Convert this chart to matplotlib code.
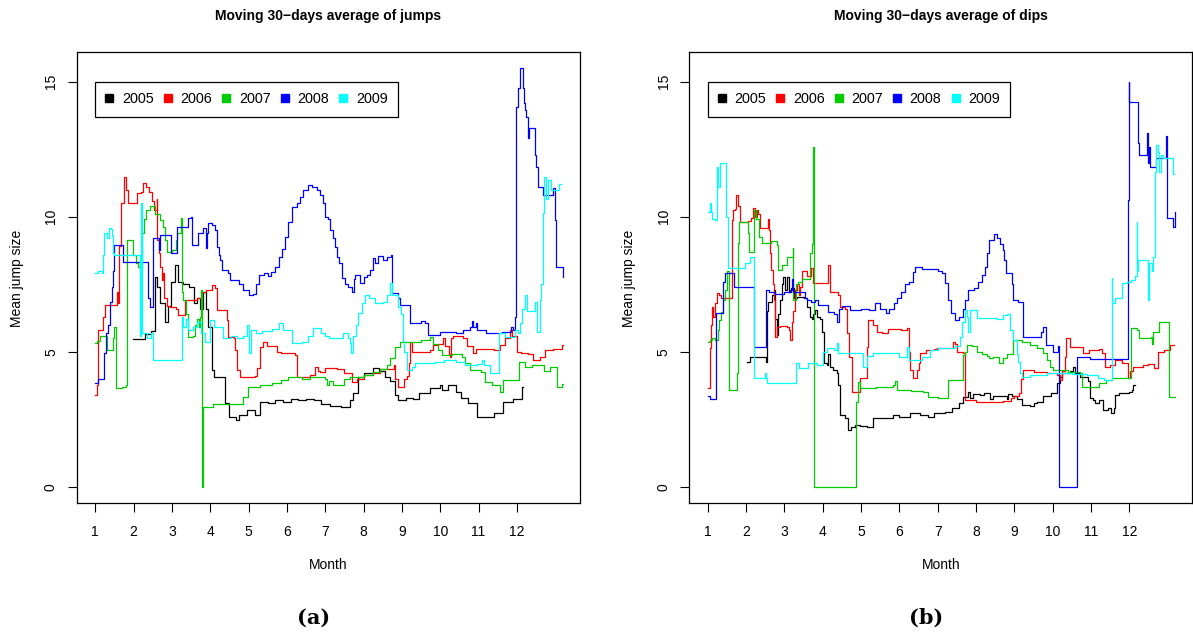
import matplotlib
matplotlib.use("Agg")
import matplotlib.pyplot as plt
from matplotlib.lines import Line2D

# Jahre, Farben und Monatsachse der beiden Diagramme.
years = ["2005", "2006", "2007", "2008", "2009"]
colors = ["#000000", "#FF0000", "#00CD00", "#0000FF", "#00FFFF"]
month_ticks = [1, 2, 3, 4, 5, 6, 7, 8, 9, 10, 11, 12]
value_ticks = [0, 5, 10, 15]

jumps_2005_month = [1.99, 2.30, 2.45, 2.56, 2.62, 2.70, 2.82, 2.90, 2.98, 3.08, 3.15, 3.30, 3.45, 3.58, 3.65,
                    3.72, 3.80, 3.88, 3.95, 4.04, 4.10, 4.38, 4.50, 4.66, 4.75, 4.95, 5.17, 5.30, 5.50, 5.70,
                    5.90, 6.10, 6.30, 6.50, 6.70, 6.90, 7.12, 7.40, 7.64, 7.72, 7.85, 8.00, 8.25, 8.40, 8.55,
                    8.70, 8.82, 8.91, 9.10, 9.30, 9.45, 9.73, 10.00, 10.05, 10.21, 10.40, 10.55, 10.73, 10.95,
                    11.40, 11.63, 11.90, 12.12, 12.17]
jumps_2005_value = [5.47, 5.65, 5.75, 7.78, 7.40, 6.80, 6.10, 6.70, 7.60, 8.20, 7.60, 7.50, 7.40, 6.80, 7.00,
                    6.60, 7.20, 6.60, 5.90, 4.32, 4.05, 3.10, 2.60, 2.47, 2.65, 2.84, 2.65, 3.15, 3.10, 3.20,
                    3.15, 3.25, 3.20, 3.25, 3.20, 3.07, 3.00, 2.96, 3.20, 3.47, 4.07, 4.20, 4.40, 4.30, 4.07,
                    3.90, 3.40, 3.21, 3.30, 3.25, 3.47, 3.66, 3.77, 3.60, 3.77, 3.50, 3.30, 3.09, 2.59,
                    2.72, 3.15, 3.25, 3.70, 3.70]
jumps_2006_month = [1.00, 1.04, 1.08, 1.15, 1.21, 1.25, 1.56, 1.60, 1.63, 1.66, 1.76, 1.80, 1.85, 2.08, 2.18,
                    2.25, 2.32, 2.40, 2.47, 2.52, 2.60, 2.62, 2.66, 2.70, 2.73, 2.76, 2.80, 2.88, 2.95, 3.10,
                    3.17, 3.30, 3.34, 3.55, 3.65, 3.78, 3.90, 4.04, 4.12, 4.17, 4.43, 4.47, 4.62, 4.64, 4.70,
                    4.78, 5.17, 5.22, 5.30, 5.38, 5.48, 5.73, 5.85, 6.08, 6.20, 6.25, 6.60, 6.73, 6.80, 6.86,
                    7.00, 7.30, 7.50, 7.69, 7.82, 8.00, 8.25, 8.43, 8.70, 8.78, 8.82, 8.91, 9.05, 9.14, 9.18,
                    9.21, 9.25, 9.73, 9.80, 9.95, 10.08, 10.13, 10.22, 10.25, 10.28, 10.32, 10.60, 10.69,
                    10.86, 10.92, 11.20, 11.40, 11.56, 11.70, 11.82, 11.88, 11.99, 12.10, 12.30, 12.43,
                    12.60, 12.73, 12.95, 13.17, 13.19]
jumps_2006_value = [3.40, 3.77, 5.80, 5.80, 6.30, 6.73, 7.20, 6.80, 8.90, 10.50, 11.48, 11.00, 10.50, 10.87, 10.90,
                    11.24, 11.10, 10.90, 10.60, 10.25, 10.66, 9.14, 8.64, 8.15, 7.65, 7.90, 7.00, 6.70, 6.65, 6.60,
                    6.36, 6.36, 6.90, 6.90, 7.00, 7.22, 7.30, 7.47, 7.35, 6.54, 6.17, 5.56, 5.50, 5.06, 4.32,
                    4.07, 4.10, 4.40, 5.19, 5.37, 5.20, 5.00, 4.97, 4.94, 4.88, 4.07, 4.15, 4.44, 4.30, 4.26,
                    4.40, 4.35, 4.20, 3.89, 4.00, 4.15, 4.20, 4.37, 4.37, 4.50, 4.00, 3.70, 4.00, 4.10, 4.60,
                    5.37, 5.00, 5.06, 5.25, 5.30, 5.50, 5.20, 4.90, 4.81, 5.50, 5.58, 5.52, 5.20,
                    4.94, 5.10, 5.10, 5.06, 5.25, 5.50, 5.80, 5.60, 5.00, 4.97, 4.90, 4.69,
                    4.80, 5.06, 5.10, 5.25, 5.25]
jumps_2007_month = [1.00, 1.05, 1.12, 1.25, 1.30, 1.40, 1.45, 1.50, 1.53, 1.70, 1.80, 1.82, 1.99, 2.05, 2.12,
                    2.21, 2.26, 2.32, 2.42, 2.56, 2.68, 2.76, 2.82, 2.86, 3.00, 3.11, 3.14, 3.22, 3.24, 3.27,
                    3.30, 3.36, 3.43, 3.55, 3.60, 3.65, 3.70, 3.74, 3.77, 3.79, 3.81, 4.08, 4.86, 4.99, 5.30,
                    5.60, 5.85, 6.04, 6.40, 6.60, 7.00, 7.04, 7.10, 7.20, 7.50, 7.64, 8.00, 8.25, 8.43, 8.60,
                    8.69, 8.82, 8.95, 9.30, 9.50, 9.73, 9.80, 9.95, 10.05, 10.30, 10.56, 10.65, 10.77, 11.05,
                    11.17, 11.35, 11.56, 11.63, 12.06, 12.20, 12.40, 12.56, 12.70, 12.85, 13.05, 13.17, 13.19]
jumps_2007_value = [5.31, 5.40, 5.60, 5.60, 5.06, 5.06, 5.50, 5.93, 3.64, 3.70, 3.77, 9.14, 8.58, 8.30, 8.15,
                    9.38, 9.90, 10.25, 10.40, 10.10, 9.88, 9.63, 9.14, 8.70, 8.75, 9.14, 9.41, 9.41, 9.94, 7.20,
                    6.90, 6.40, 5.56, 5.60, 6.00, 6.20, 5.90, 6.30, 7.30, 0.00, 2.96, 3.07, 3.33, 3.70, 3.77,
                    3.85, 3.95, 4.07, 4.00, 4.07, 4.00, 3.77, 3.90, 3.77, 4.00, 4.05, 4.15, 4.26, 4.37, 4.50,
                    4.75, 5.19, 5.37, 5.37, 5.45, 5.56, 5.30, 5.06, 4.88, 4.90, 4.81, 4.60, 4.32, 4.26,
                    3.89, 3.75, 3.52, 3.95, 4.63, 4.44, 4.50, 4.50, 4.30, 4.45, 3.70, 3.80, 3.80]
jumps_2008_month = [1.00, 1.08, 1.20, 1.22, 1.28, 1.32, 1.39, 1.43, 1.47, 1.50, 1.71, 1.73, 2.33, 2.38, 2.42,
                    2.51, 2.60, 2.66, 2.69, 2.97, 3.14, 3.41, 3.49, 3.51, 3.67, 3.82, 3.88, 3.92, 3.95, 4.05,
                    4.12, 4.17, 4.22, 4.26, 4.30, 4.45, 4.51, 4.75, 4.85, 5.00, 5.12, 5.20, 5.28, 5.40, 5.50,
                    5.58, 5.69, 5.78, 5.86, 5.95, 6.04, 6.12, 6.25, 6.34, 6.43, 6.56, 6.65, 6.78, 6.87, 6.95,
                    7.00, 7.08, 7.12, 7.20, 7.25, 7.30, 7.36, 7.43, 7.52, 7.60, 7.69, 7.74, 7.78, 7.90, 8.00,
                    8.10, 8.17, 8.25, 8.30, 8.38, 8.50, 8.60, 8.71, 8.73, 8.90, 8.95, 9.21, 9.50, 9.60, 9.69,
                    10.00, 10.40, 10.60, 10.77, 10.82, 10.86, 10.92, 10.97, 11.20, 11.60, 11.85, 11.90, 11.95,
                    11.97, 11.98, 12.03, 12.08, 12.15, 12.19, 12.21, 12.24, 12.30, 12.32, 12.47, 12.51, 12.54,
                    12.67, 12.95, 12.99, 13.02, 13.19, 13.21]
jumps_2008_value = [3.83, 3.98, 3.98, 4.94, 5.68, 6.00, 6.85, 7.40, 8.00, 8.95, 8.95, 8.33, 8.33, 7.00, 6.67,
                    9.20, 9.20, 8.77, 9.32, 8.64, 9.63, 9.94, 10.00, 8.95, 9.38, 9.60, 8.83, 9.38, 9.75, 9.70,
                    9.50, 8.89, 8.60, 8.40, 8.03, 7.90, 7.65, 7.50, 7.28, 7.10, 7.15, 7.50, 7.85, 7.90, 7.80,
                    7.95, 8.15, 8.52, 8.80, 9.26, 9.81, 10.37, 10.50, 10.74, 11.00, 11.17, 11.10, 11.00, 10.80, 10.50,
                    10.00, 9.90, 9.50, 9.20, 8.89, 8.52, 8.30, 7.72, 7.50, 7.40, 7.22, 7.70, 7.84, 7.55, 7.75,
                    7.84, 8.03, 8.46, 8.30, 8.54, 8.40, 8.50, 8.60, 7.16, 7.00, 6.73, 6.05, 6.12, 6.05, 5.62,
                    5.72, 5.68, 5.80, 5.93, 6.12, 5.90, 6.05, 5.80, 5.70, 5.72, 5.93, 5.80, 6.30,
                    10.00, 14.07, 14.75, 15.50, 14.75, 14.20, 13.95, 13.70, 12.90, 13.27, 12.28, 11.85, 11.10,
                    10.80, 11.07, 9.88, 8.15, 7.78, 7.78]
jumps_2009_month = [1.00, 1.08, 1.18, 1.21, 1.23, 1.30, 1.35, 1.40, 1.44, 1.47, 1.50, 2.17, 2.20, 2.23, 2.35,
                    2.45, 2.51, 3.25, 3.30, 3.36, 3.43, 3.55, 3.65, 3.75, 3.86, 3.99, 4.10, 4.34, 4.55, 4.70,
                    4.85, 4.95, 5.02, 5.06, 5.20, 5.35, 5.60, 5.78, 5.90, 6.12, 6.40, 6.55, 6.69, 6.90, 7.00,
                    7.10, 7.45, 7.60, 7.64, 7.68, 7.72, 7.80, 7.86, 7.95, 8.04, 8.15, 8.30, 8.50, 8.60, 8.69,
                    8.73, 8.85, 8.91, 8.98, 9.02, 9.06, 9.13, 9.25, 9.35, 9.60, 9.87, 10.10, 10.40, 10.65,
                    10.95, 11.08, 11.15, 11.30, 11.54, 11.70, 11.95, 12.02, 12.08, 12.13, 12.21, 12.26, 12.47,
                    12.52, 12.60, 12.64, 12.67, 12.71, 12.76, 12.82, 12.88, 13.10, 13.16]
jumps_2009_value = [7.90, 8.00, 7.90, 8.60, 9.38, 9.20, 9.60, 9.55, 9.30, 8.64, 8.58, 5.60, 10.50, 5.70, 5.50,
                    5.70, 4.69, 6.30, 5.93, 6.20, 5.80, 5.90, 6.10, 5.70, 5.37, 6.17, 5.90, 5.50, 5.60, 5.50,
                    5.60, 5.99, 4.94, 5.80, 5.70, 5.75, 5.85, 6.06, 5.80, 5.31, 5.35, 5.60, 5.87, 5.70, 5.60,
                    5.50, 5.70, 5.50, 5.31, 4.94, 5.60, 6.00, 6.42, 6.79, 7.10, 7.00, 6.80, 6.85, 7.10, 7.53,
                    7.10, 7.10, 6.67, 6.40, 5.40, 5.00, 4.32, 4.45, 4.57, 4.60, 4.63, 4.69, 4.63, 4.50,
                    4.55, 4.69, 4.50, 4.20, 5.68, 5.55, 5.80, 5.70, 6.05, 6.60, 7.10, 6.50, 6.85,
                    5.72, 6.90, 7.50, 10.13, 11.48, 10.66, 11.36, 11.00, 11.20, 11.20]

dips_2005_month = [2.02, 2.10, 2.52, 2.55, 2.58, 2.68, 2.72, 2.76, 2.80, 2.84, 2.89, 2.93, 2.97, 3.02, 3.07,
                   3.12, 3.18, 3.25, 3.32, 3.50, 3.58, 3.66, 3.72, 3.76, 3.80, 3.86, 3.92, 3.97, 4.03, 4.10,
                   4.15, 4.20, 4.28, 4.38, 4.41, 4.45, 4.58, 4.67, 4.75, 4.84, 4.98, 5.15, 5.32, 5.60, 5.84,
                   6.00, 6.28, 6.55, 6.75, 6.90, 7.06, 7.20, 7.37, 7.55, 7.67, 7.80, 7.85, 7.92, 8.10, 8.20,
                   8.32, 8.36, 8.45, 8.65, 8.80, 8.84, 8.95, 9.06, 9.19, 9.40, 9.50, 9.60, 9.76, 9.95, 10.11,
                   10.20, 10.24, 10.45, 10.54, 10.58, 10.70, 10.93, 10.97, 11.05, 11.10, 11.20, 11.32, 11.45,
                   11.52, 11.60, 11.63, 11.72, 12.00, 12.06, 12.10, 12.15]
dips_2005_value = [4.63, 4.79, 4.63, 6.50, 6.85, 7.10, 7.30, 6.20, 5.62, 6.40, 6.90, 7.50, 7.78, 7.30, 7.78,
                   7.20, 7.35, 7.00, 7.03, 7.00, 6.67, 6.30, 6.20, 6.40, 6.54, 6.30, 6.20, 5.74, 4.57, 4.50,
                   4.90, 4.45, 4.32, 4.20, 3.77, 2.65, 2.55, 2.10, 2.20, 2.30, 2.25, 2.22, 2.53, 2.55, 2.65,
                   2.60, 2.72, 2.65, 2.60, 2.72, 2.74, 2.75, 2.90, 3.09, 3.33, 3.50, 3.30, 3.45, 3.40, 3.46,
                   3.46, 3.25, 3.35, 3.35, 3.25, 3.45, 3.35, 3.25, 3.03, 3.00, 3.10, 3.15, 3.35, 3.46, 3.83,
                   4.07, 4.20, 4.30, 4.44, 4.20, 4.07, 3.92, 3.27, 3.20, 3.09, 3.20, 2.84, 2.90,
                   2.72, 2.90, 3.40, 3.46, 3.50, 3.60, 3.77, 3.77]
dips_2006_month = [1.00, 1.05, 1.06, 1.09, 1.10, 1.14, 1.18, 1.23, 1.30, 1.35, 1.50, 1.60, 1.63, 1.65, 1.72,
                   1.74, 1.78, 1.84, 2.05, 2.12, 2.19, 2.24, 2.28, 2.32, 2.36, 2.55, 2.58, 2.61, 2.63, 2.66,
                   2.70, 2.72, 2.74, 2.76, 2.80, 2.89, 3.08, 3.12, 3.15, 3.19, 3.23, 3.28, 3.33, 3.37, 3.41,
                   3.45, 3.60, 3.70, 3.76, 4.13, 4.15, 4.18, 4.30, 4.40, 4.45, 4.58, 4.63, 4.68, 4.76, 4.97,
                   5.15, 5.19, 5.30, 5.41, 5.55, 5.70, 6.05, 6.19, 6.24, 6.28, 6.35, 6.45, 6.50, 6.54, 6.70,
                   6.90, 6.98, 7.41, 7.46, 7.50, 7.67, 7.70, 8.00, 8.70, 8.90, 9.00, 9.11, 9.17, 9.23, 9.50,
                   9.84, 10.10, 10.19, 10.25, 10.32, 10.35, 10.45, 10.80, 10.95, 11.20, 11.30, 11.37, 11.50,
                   11.63, 11.80, 11.97, 12.02, 12.10, 12.35, 12.50, 12.65, 12.76, 12.90, 13.05, 13.17]
dips_2006_value = [3.64, 3.70, 5.12, 6.00, 6.67, 6.30, 6.80, 7.16, 7.10, 7.00, 7.00, 7.00, 9.88, 10.25, 10.30,
                   10.80, 10.40, 9.81, 9.85, 9.95, 10.31, 10.00, 10.25, 10.10, 9.57, 9.57, 9.90, 9.50, 8.64, 8.03,
                   7.50, 7.04, 6.90, 5.56, 5.90, 5.95, 5.90, 5.80, 5.43, 6.10, 6.50, 7.28, 7.50, 7.10, 7.40,
                   8.00, 7.80, 8.10, 7.53, 7.53, 8.21, 7.20, 7.20, 7.10, 6.67, 6.60, 5.68, 4.81, 3.52, 4.01,
                   5.19, 6.17, 6.00, 5.74, 5.70, 5.85, 5.80, 5.87, 5.00, 4.32, 4.01, 4.32, 4.60, 4.94, 5.06,
                   5.10, 5.12, 5.37, 5.30, 5.00, 4.97, 3.21, 3.15, 3.18, 3.30, 3.35, 3.46, 4.00, 4.32, 4.26,
                   4.20, 4.15, 3.95, 4.30, 4.80, 5.50, 5.19, 4.97, 5.06, 5.10, 4.95, 4.44, 4.50,
                   4.69, 4.60, 4.01, 4.30, 4.44, 4.50, 4.55, 4.40, 5.00, 5.06, 5.25, 5.25]
dips_2007_month = [1.00, 1.05, 1.12, 1.18, 1.27, 1.30, 1.36, 1.40, 1.44, 1.50, 1.56, 1.76, 1.78, 1.82, 2.06,
                   2.08, 2.21, 2.26, 2.33, 2.41, 2.65, 2.80, 2.83, 2.95, 3.06, 3.22, 3.23, 3.30, 3.35, 3.45,
                   3.55, 3.67, 3.72, 3.76, 3.77, 4.87, 4.93, 4.98, 5.40, 5.84, 5.88, 5.93, 6.30, 6.63, 6.76,
                   7.00, 7.28, 7.55, 7.65, 7.67, 7.71, 7.76, 7.90, 8.02, 8.15, 8.28, 8.35, 8.45, 8.60, 8.70,
                   8.82, 8.97, 9.20, 9.40, 9.60, 9.76, 9.85, 9.93, 10.02, 10.40, 10.70, 10.76, 11.00, 11.20,
                   11.40, 11.54, 12.04, 12.20, 12.26, 12.57, 12.60, 12.63, 12.78, 13.04, 13.19]
dips_2007_value = [5.37, 5.45, 5.50, 5.45, 5.80, 6.17, 6.48, 6.90, 7.28, 8.00, 3.58, 4.20, 9.01, 9.81, 9.40,
                   8.70, 10.25, 9.90, 9.26, 9.01, 9.10, 8.95, 8.03, 8.20, 8.52, 8.83, 6.90, 7.50, 7.60, 7.70,
                   7.70, 8.64, 9.00, 12.59, 0.00, 3.15, 3.89, 3.64, 3.70, 3.77, 3.90, 3.60, 3.55, 3.52, 3.33,
                   3.28, 3.95, 3.95, 4.15, 4.88, 5.00, 5.25, 5.20, 5.00, 4.90, 4.85, 4.75, 4.80, 4.57, 4.75,
                   4.90, 5.43, 5.35, 5.25, 5.15, 4.97, 4.70, 4.44, 4.32, 4.25, 4.20, 3.70, 3.70, 3.83,
                   3.95, 4.01, 5.87, 5.80, 5.50, 5.55, 5.30, 5.72, 6.11, 3.33, 3.33]
dips_2008_month = [1.00, 1.05, 1.22, 1.41, 1.45, 1.69, 2.21, 2.52, 2.60, 2.75, 3.00, 3.15, 3.19, 3.22, 3.50,
                   3.55, 3.58, 3.70, 3.80, 3.87, 3.97, 4.15, 4.30, 4.37, 4.42, 4.50, 4.70, 5.00, 5.20, 5.37,
                   5.50, 5.65, 5.72, 5.85, 5.93, 6.05, 6.15, 6.25, 6.36, 6.42, 6.60, 6.80, 7.00, 7.10, 7.19,
                   7.28, 7.36, 7.45, 7.55, 7.65, 7.71, 7.80, 7.95, 8.05, 8.15, 8.23, 8.28, 8.33, 8.47, 8.55,
                   8.62, 8.70, 8.74, 8.78, 8.93, 8.97, 9.10, 9.22, 9.23, 9.60, 9.70, 9.76, 9.83, 10.00, 10.15,
                   10.17, 10.63, 10.64, 10.97, 11.96, 11.97, 11.99, 12.00, 12.19, 12.23, 12.26, 12.47, 12.49,
                   12.51, 12.54, 12.70, 12.93, 12.96, 12.98, 12.99, 13.15, 13.18, 13.19]
dips_2008_value = [3.36, 3.25, 6.42, 7.60, 7.90, 7.41, 5.19, 7.28, 7.20, 7.15, 7.20, 7.30, 7.70, 7.20, 7.20,
                   7.00, 6.90, 6.85, 6.90, 6.73, 6.73, 6.48, 6.40, 6.11, 6.60, 6.70, 6.55, 6.60, 6.55, 6.79,
                   6.60, 6.45, 6.60, 6.80, 7.00, 7.20, 7.50, 7.60, 7.96, 8.15, 8.05, 8.05, 8.00, 7.90, 7.53,
                   6.90, 6.42, 6.17, 6.30, 6.60, 6.90, 7.28, 7.35, 7.60, 7.84, 8.15, 8.64, 9.14, 9.36, 9.20,
                   9.00, 8.77, 8.40, 7.90, 7.50, 6.90, 6.85, 6.24, 5.56, 5.55, 5.72, 5.90, 5.25, 5.00, 5.20,
                   0.00, 0.00, 4.79, 4.72, 4.72, 10.62, 15.00, 14.26, 14.26, 12.72, 12.28, 13.09, 12.00,
                   12.60, 11.85, 12.16, 12.16, 13.00, 11.60, 9.94, 9.63, 10.19, 10.19]
dips_2009_month = [1.00, 1.06, 1.08, 1.12, 1.20, 1.23, 1.26, 1.32, 1.45, 1.48, 1.52, 1.54, 1.97, 2.10, 2.21,
                   2.49, 2.53, 2.55, 3.30, 3.38, 3.62, 3.85, 4.02, 4.10, 4.30, 4.37, 4.40, 5.05, 5.15, 5.30,
                   5.80, 6.00, 6.19, 6.26, 6.60, 6.80, 7.02, 7.45, 7.58, 7.63, 7.71, 7.76, 7.80, 7.84, 8.02,
                   8.40, 8.55, 8.70, 8.82, 8.89, 8.97, 9.06, 9.10, 9.15, 9.19, 9.40, 9.84, 10.50, 10.90, 11.19,
                   11.35, 11.52, 11.54, 11.56, 11.62, 11.80, 11.95, 12.05, 12.15, 12.19, 12.21, 12.23, 12.49,
                   12.50, 12.52, 12.60, 12.63, 12.66, 12.68, 12.70, 12.74, 12.78, 12.82, 12.89, 13.13, 13.17]
dips_2009_value = [10.19, 10.52, 10.19, 9.90, 9.88, 11.85, 11.10, 11.98, 11.98, 10.00, 8.50, 8.09, 8.30, 8.52, 4.01,
                   4.20, 4.01, 3.83, 4.57, 4.40, 4.57, 4.50, 5.00, 5.12, 5.06, 5.31, 4.94, 4.44, 4.85, 4.94,
                   4.94, 4.80, 5.19, 4.69, 4.80, 5.06, 5.12, 5.20, 5.56, 6.10, 6.54, 6.30, 5.74, 6.54, 6.24,
                   6.24, 6.20, 6.35, 6.40, 5.80, 5.43, 4.90, 4.63, 4.20, 4.07, 4.15, 4.20, 4.17, 4.12, 4.01,
                   3.95, 3.95, 7.72, 6.79, 7.00, 7.53, 7.60, 7.65, 7.80, 9.81, 8.00, 8.40, 8.40,
                   6.90, 8.30, 8.00, 8.52, 10.00, 11.65, 12.65, 12.40, 11.65, 12.30, 12.16, 11.60, 11.60]

jumps_series = [(jumps_2005_month, jumps_2005_value), (jumps_2006_month, jumps_2006_value),
                (jumps_2007_month, jumps_2007_value), (jumps_2008_month, jumps_2008_value),
                (jumps_2009_month, jumps_2009_value)]
dips_series = [(dips_2005_month, dips_2005_value), (dips_2006_month, dips_2006_value),
               (dips_2007_month, dips_2007_value), (dips_2008_month, dips_2008_value),
               (dips_2009_month, dips_2009_value)]

plt.rcParams["font.family"] = ["Liberation Sans", "DejaVu Sans"]

W, H = 1193.0, 635.0


# Erzeuge Funktion, die ein Diagramm mit allen Jahren zeichnet.
def plot(fig, left_px, right_px, month1_px, series, title, caption):
  top_px, bottom_px = 52.3, 503.3
  ax = fig.add_axes([left_px / W, 1 - bottom_px / H, (right_px - left_px) / W, (bottom_px - top_px) / H])

  # Zeichne die Treppenlinien in der Reihenfolge der Jahre.
  for (months, values), color in zip(series, colors):
    ax.step(months, values, where="post", color=color, linewidth=0.9)

  # Achsenbereich wie in R (38.33 Pixel pro Monat, 27 Pixel pro Einheit).
  x0 = 1 - (month1_px - left_px) / 38.33
  ax.set_xlim(x0, x0 + (right_px - left_px) / 38.33)
  ax.set_ylim(-(bottom_px - 486.7) / 27.0, (486.7 - top_px) / 27.0)

  ax.set_xticks(month_ticks)
  ax.set_xticklabels([str(m) for m in month_ticks])
  ax.set_yticks(value_ticks)
  ax.set_yticklabels([str(v) for v in value_ticks], rotation=90, va="center")
  ax.tick_params(axis="both", direction="out", length=6.5, width=0.8, labelsize=10, colors="black")
  ax.tick_params(axis="x", pad=9)
  ax.tick_params(axis="y", pad=7)
  for spine in ax.spines.values():
    spine.set_linewidth(0.9)
    spine.set_color("black")

  # Legende waagerecht oben links an der Stelle (1, 15).
  handles = [Line2D([], [], marker="s", linestyle="none", color=c, markersize=5.2) for c in colors]
  leg = ax.legend(handles, years, loc="upper left", bbox_to_anchor=(1.0, 15.0), bbox_transform=ax.transData,
                  ncol=5, fontsize=10.4, handlelength=0.5, handletextpad=0.62, columnspacing=0.73,
                  borderpad=0.72, borderaxespad=0, fancybox=False, framealpha=1, edgecolor="black")
  leg.get_frame().set_linewidth(0.9)

  # Beschriftungen als Text auf der Figur.
  cx = (left_px + right_px) / 2 / W
  fig.text(cx, 1 - 16 / H, title, ha="center", va="center", fontsize=10, fontweight="bold")
  fig.text(cx, 1 - 565 / H, "Month", ha="center", va="center", fontsize=10)
  fig.text((left_px - 60) / W, 1 - 278 / H, "Mean jump size", ha="center", va="center", rotation=90, fontsize=10)
  fig.text(cx - 15 / W, 1 - 618 / H, caption, ha="center", va="center",
           fontsize=15, fontweight="bold", family="DejaVu Serif")
  return ax


def main():
  fig = plt.figure(figsize=(W / 100, H / 100), dpi=100)
  plot(fig, 76.7, 580.3, 95.3, jumps_series, "Moving 30\u2212days average of jumps", "(a)")
  plot(fig, 689.3, 1192.3, 707.7, dips_series, "Moving 30\u2212days average of dips", "(b)")
  fig.savefig("out.png", dpi=100)


if __name__ == "__main__":
  main()
